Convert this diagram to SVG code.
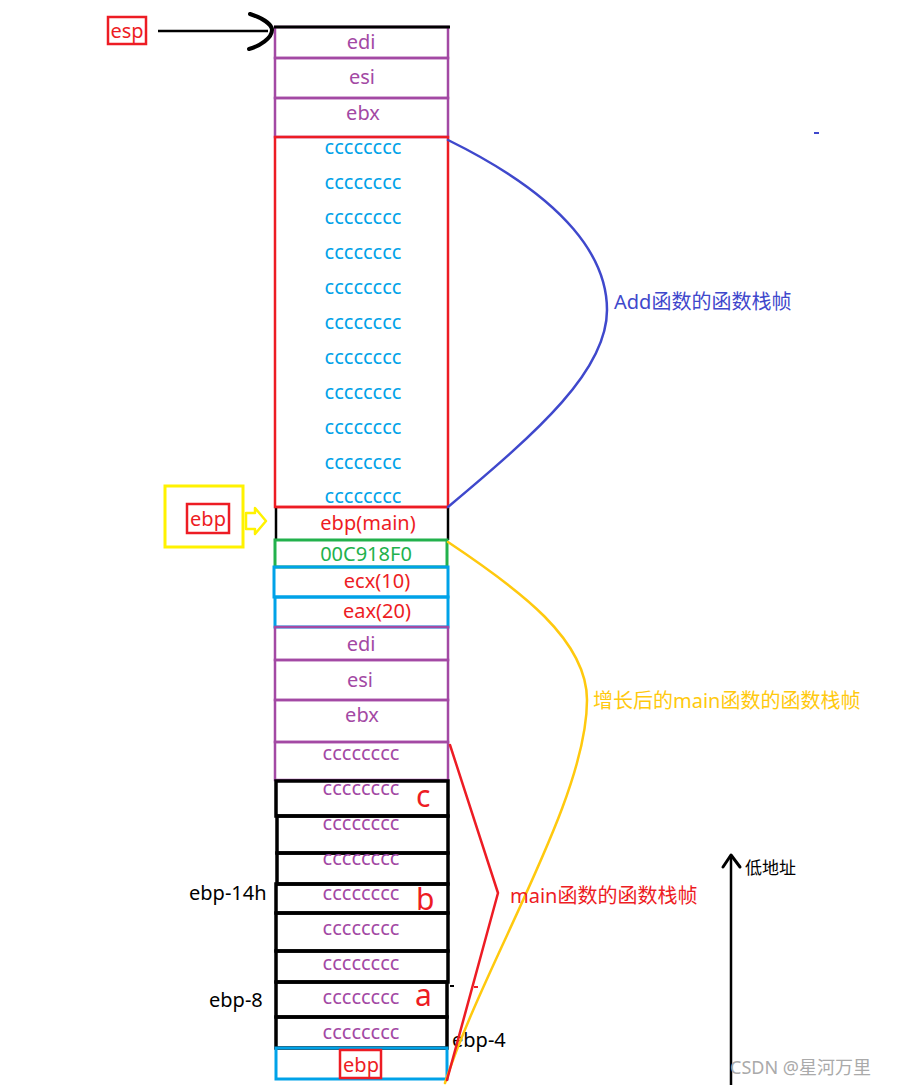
<svg xmlns="http://www.w3.org/2000/svg" width="917" height="1085" viewBox="0 0 917 1085">
<style>
text{font-family:"Noto Sans","Noto Sans CJK SC",sans-serif;font-size:20px;text-anchor:middle}
.pu{fill:#a349a4}.cy{fill:#00a2e8}.rd{fill:#ed1c24}.gr{fill:#22b14c}.bk{fill:#000}
.lab{text-anchor:start;font-size:20px}
.big{font-size:30px;text-anchor:start;fill:#ed1c24}
.cp{fill:none;stroke:#a349a4;stroke-width:2.5}
.cb{fill:none;stroke:#000;stroke-width:3.5}
.cl{fill:none;stroke:#00a2e8;stroke-width:3}
.ln{fill:none;stroke-linecap:round;stroke-linejoin:round}
</style>
<rect width="917" height="1085" fill="#fff"/>
<g id="esp">
<rect x="108" y="17" width="38" height="27" fill="none" stroke="#ed1c24" stroke-width="2.5"/>
<text x="127" y="38" class="rd">esp</text>
</g>
<g id="top-regs">
<rect x="275" y="27" width="173" height="31" class="cp"/>
<rect x="275" y="58" width="173" height="40" class="cp"/>
<rect x="275" y="98" width="173" height="39" class="cp"/>
<line x1="274" y1="27" x2="450" y2="27" stroke="#000" stroke-width="3"/>
<text x="361" y="49" class="pu">edi</text>
<text x="362" y="84" class="pu">esi</text>
<text x="363" y="120" class="pu">ebx</text>
</g>
<g id="add-locals">
<rect x="275" y="137" width="173" height="370" fill="none" stroke="#ed1c24" stroke-width="2.5"/>
<text x="363" y="154" class="cy">cccccccc</text>
<text x="363" y="189" class="cy">cccccccc</text>
<text x="363" y="224" class="cy">cccccccc</text>
<text x="363" y="259" class="cy">cccccccc</text>
<text x="363" y="294" class="cy">cccccccc</text>
<text x="363" y="329" class="cy">cccccccc</text>
<text x="363" y="364" class="cy">cccccccc</text>
<text x="363" y="399" class="cy">cccccccc</text>
<text x="363" y="434" class="cy">cccccccc</text>
<text x="363" y="469" class="cy">cccccccc</text>
<text x="363" y="503" class="cy">cccccccc</text>
</g>
<g id="ebp-pointer">
<rect x="165" y="486" width="78" height="61" fill="none" stroke="#fff200" stroke-width="3"/>
<rect x="187" y="504" width="42" height="29" fill="none" stroke="#ed1c24" stroke-width="2.5"/>
<text x="208" y="526" class="rd">ebp</text>
<polygon points="246,513 255,513 255,508 266,521 255,534 255,529 246,529" fill="#fff" stroke="#fff200" stroke-width="2.5" stroke-linejoin="round"/>
</g>
<g id="ebp-main">
<line x1="276" y1="508" x2="276" y2="540" stroke="#000" stroke-width="2.5"/>
<line x1="448" y1="508" x2="448" y2="540" stroke="#000" stroke-width="2.5"/>
<line x1="275" y1="507" x2="448" y2="507" stroke="#ed1c24" stroke-width="2.5"/>
<text x="368" y="530" class="rd">ebp(main)</text>
</g>
<g id="ret-addr">
<rect x="275" y="540" width="172" height="27" fill="none" stroke="#22b14c" stroke-width="3"/>
<text x="366" y="561" class="gr">00C918F0</text>
</g>
<g id="args">
<rect x="274" y="567" width="174" height="30" class="cl"/>
<rect x="275" y="597" width="173" height="30" class="cl"/>
<text x="377" y="588" class="rd">ecx(10)</text>
<text x="377" y="618" class="rd">eax(20)</text>
</g>
<g id="main-regs">
<rect x="275" y="627" width="173" height="33" class="cp"/>
<rect x="275" y="660" width="173" height="40" class="cp"/>
<rect x="275" y="700" width="173" height="42" class="cp"/>
<rect x="275" y="742" width="173" height="38" class="cp"/>
<text x="361" y="651" class="pu">edi</text>
<text x="360" y="687" class="pu">esi</text>
<text x="362" y="722" class="pu">ebx</text>
<text x="361" y="760" class="pu">cccccccc</text>
</g>
<g id="main-locals">
<rect x="276" y="781" width="172" height="35" class="cb"/>
<rect x="277" y="816" width="171" height="37" class="cb"/>
<rect x="277" y="853" width="171" height="31" class="cb"/>
<rect x="276" y="884" width="172" height="29" class="cb"/>
<rect x="276" y="913" width="172" height="38" class="cb"/>
<rect x="276" y="951" width="172" height="31" class="cb"/>
<rect x="276" y="982" width="171" height="35" class="cb"/>
<rect x="276" y="1017" width="171" height="31" class="cb"/>
<text x="361" y="795" class="pu">cccccccc</text>
<text x="361" y="830" class="pu">cccccccc</text>
<text x="361" y="865" class="pu">cccccccc</text>
<text x="361" y="900" class="pu">cccccccc</text>
<text x="361" y="935" class="pu">cccccccc</text>
<text x="361" y="970" class="pu">cccccccc</text>
<text x="361" y="1004" class="pu">cccccccc</text>
<text x="361" y="1039" class="pu">cccccccc</text>
<text x="416" y="807" class="big">c</text>
<text x="416" y="910" class="big">b</text>
<text x="415" y="1006" class="big">a</text>
<text x="189" y="900" class="lab bk">ebp-14h</text>
<text x="209" y="1007" class="lab bk">ebp-8</text>
<text x="452" y="1047" class="lab bk">ebp-4</text>
<rect x="450" y="985" width="4" height="2" fill="#000"/>
<rect x="474" y="986" width="4" height="2" fill="#ed1c24"/>
</g>
<g id="ebp-cell">
<rect x="276" y="1048" width="171" height="31" class="cl"/>
<rect x="340" y="1050" width="41" height="28" fill="none" stroke="#ed1c24" stroke-width="2.5"/>
<text x="361" y="1072" class="rd">ebp</text>
</g>
<g id="connectors">
<line x1="158" y1="31" x2="268" y2="31" stroke="#000" stroke-width="2.5"/>
<path d="M250,14 C262,18 272,24 272,30 C272,38 260,46 249,49" class="ln" stroke="#000" stroke-width="4"/>
<path d="M448,140 C570,200 607,260 607,310 C607,370 540,430 448,507" class="ln" stroke="#3f48cc" stroke-width="2.5"/>
<path d="M448,542 C520,590 587,640 587,700 C587,800 485,960 445,1083" class="ln" stroke="#ffc90e" stroke-width="2.5"/>
<polyline points="450,745 498,893 447,1080" class="ln" stroke="#ed1c24" stroke-width="2.5"/>
<line x1="731" y1="1085" x2="731" y2="856" stroke="#000" stroke-width="2.5"/>
<polyline points="723,867 731,855 740,867" class="ln" stroke="#000" stroke-width="3"/>
<rect x="814" y="132" width="5" height="2" fill="#3f48cc"/>
</g>
<g id="labels">
<text x="614" y="309" class="lab" style="fill:#3f48cc">Add函数的函数栈帧</text>
<text x="593" y="708" class="lab" style="fill:#ffc90e">增长后的main函数的函数栈帧</text>
<text x="510" y="903" class="lab rd">main函数的函数栈帧</text>
<text x="745" y="874" class="lab bk" style="font-size:17px">低地址</text>
<text x="730" y="1074" class="lab" style="font-size:18px;fill:#aaa">CSDN @星河万里</text>
</g>
</svg>
